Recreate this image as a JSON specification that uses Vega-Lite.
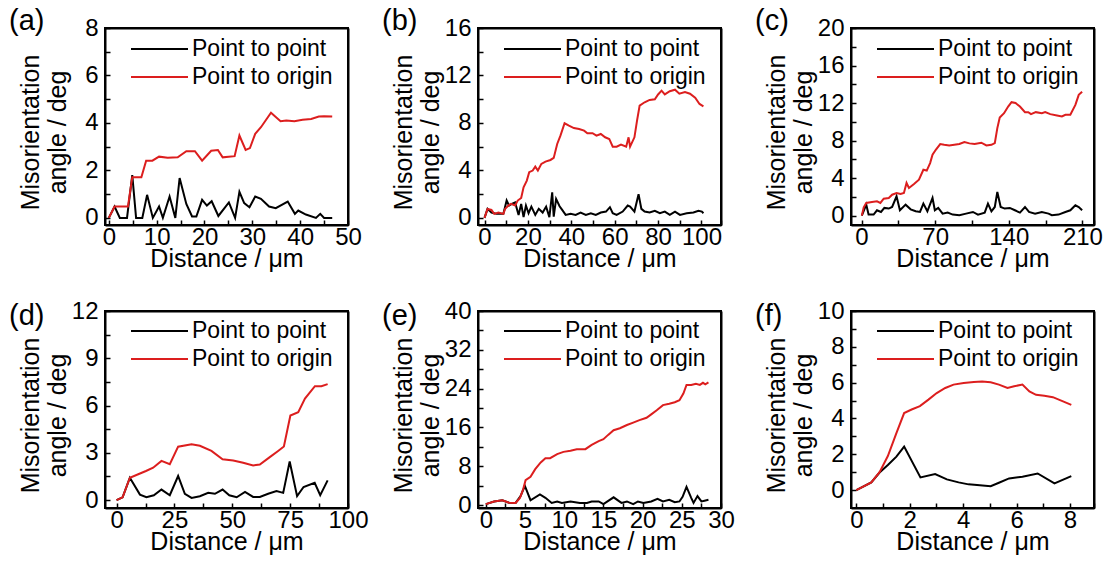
{
  "$schema": "https://vega.github.io/schema/vega-lite/v6.json",
  "background": "white",
  "padding": {"left": 8, "top": 6, "right": 0, "bottom": 0},
  "datasets": {
    "a": [
      {"x":0,"y":0,"s":"Point to point"},{"x":1.2,"y":0.48,"s":"Point to point"},{"x":2.3,"y":0,"s":"Point to point"},{"x":3.8,"y":0,"s":"Point to point"},{"x":4.9,"y":1.8,"s":"Point to point"},{"x":5.7,"y":0,"s":"Point to point"},{"x":7.0,"y":0,"s":"Point to point"},{"x":8.0,"y":0.97,"s":"Point to point"},{"x":9.2,"y":0,"s":"Point to point"},{"x":10.5,"y":0.48,"s":"Point to point"},{"x":11.3,"y":0,"s":"Point to point"},{"x":12.7,"y":0.9,"s":"Point to point"},{"x":13.9,"y":0,"s":"Point to point"},{"x":14.8,"y":1.68,"s":"Point to point"},{"x":16.2,"y":0.59,"s":"Point to point"},{"x":17.4,"y":0.06,"s":"Point to point"},{"x":18.3,"y":0.06,"s":"Point to point"},{"x":19.5,"y":0.76,"s":"Point to point"},{"x":20.5,"y":0.52,"s":"Point to point"},{"x":21.5,"y":0.7,"s":"Point to point"},{"x":22.9,"y":0.08,"s":"Point to point"},{"x":25.1,"y":0.65,"s":"Point to point"},{"x":26.4,"y":0,"s":"Point to point"},{"x":27.3,"y":1.1,"s":"Point to point"},{"x":28.3,"y":0.62,"s":"Point to point"},{"x":29.4,"y":0.45,"s":"Point to point"},{"x":30.6,"y":0.9,"s":"Point to point"},{"x":31.8,"y":0.8,"s":"Point to point"},{"x":33.5,"y":0.48,"s":"Point to point"},{"x":34.9,"y":0.41,"s":"Point to point"},{"x":37.4,"y":0.69,"s":"Point to point"},{"x":38.9,"y":0.17,"s":"Point to point"},{"x":39.6,"y":0.31,"s":"Point to point"},{"x":41.2,"y":0.14,"s":"Point to point"},{"x":43.3,"y":0,"s":"Point to point"},{"x":44.2,"y":0.17,"s":"Point to point"},{"x":45.0,"y":0,"s":"Point to point"},{"x":46.7,"y":0,"s":"Point to point"},
      {"x":0,"y":0,"s":"Point to origin"},{"x":1.2,"y":0.48,"s":"Point to origin"},{"x":4.0,"y":0.48,"s":"Point to origin"},{"x":4.9,"y":1.71,"s":"Point to origin"},{"x":6.8,"y":1.71,"s":"Point to origin"},{"x":7.8,"y":2.41,"s":"Point to origin"},{"x":9.1,"y":2.41,"s":"Point to origin"},{"x":10.5,"y":2.58,"s":"Point to origin"},{"x":12.3,"y":2.53,"s":"Point to origin"},{"x":14.4,"y":2.55,"s":"Point to origin"},{"x":16.2,"y":2.81,"s":"Point to origin"},{"x":18.0,"y":2.81,"s":"Point to origin"},{"x":19.5,"y":2.41,"s":"Point to origin"},{"x":21.4,"y":2.83,"s":"Point to origin"},{"x":22.8,"y":2.86,"s":"Point to origin"},{"x":23.8,"y":2.55,"s":"Point to origin"},{"x":26.3,"y":2.6,"s":"Point to origin"},{"x":27.3,"y":3.47,"s":"Point to origin"},{"x":28.6,"y":2.86,"s":"Point to origin"},{"x":29.5,"y":2.94,"s":"Point to origin"},{"x":30.6,"y":3.54,"s":"Point to origin"},{"x":31.8,"y":3.82,"s":"Point to origin"},{"x":33.9,"y":4.43,"s":"Point to origin"},{"x":35.9,"y":4.07,"s":"Point to origin"},{"x":37.1,"y":4.1,"s":"Point to origin"},{"x":38.8,"y":4.07,"s":"Point to origin"},{"x":40.5,"y":4.13,"s":"Point to origin"},{"x":42.3,"y":4.17,"s":"Point to origin"},{"x":43.9,"y":4.27,"s":"Point to origin"},{"x":45.0,"y":4.28,"s":"Point to origin"},{"x":46.7,"y":4.27,"s":"Point to origin"}
    ],
    "b": [
      {"x":0,"y":0,"s":"Point to point"},{"x":1.4,"y":0.76,"s":"Point to point"},{"x":3.2,"y":0.45,"s":"Point to point"},{"x":5.6,"y":0.34,"s":"Point to point"},{"x":8.7,"y":0.34,"s":"Point to point"},{"x":10.2,"y":1.46,"s":"Point to point"},{"x":11.3,"y":1.04,"s":"Point to point"},{"x":12.6,"y":1.18,"s":"Point to point"},{"x":14.1,"y":1.3,"s":"Point to point"},{"x":15.7,"y":0.25,"s":"Point to point"},{"x":16.9,"y":1.18,"s":"Point to point"},{"x":18.0,"y":0.06,"s":"Point to point"},{"x":19.1,"y":1.04,"s":"Point to point"},{"x":20.3,"y":0.39,"s":"Point to point"},{"x":21.6,"y":0.95,"s":"Point to point"},{"x":23.4,"y":0.25,"s":"Point to point"},{"x":25.0,"y":0.76,"s":"Point to point"},{"x":26.8,"y":0.45,"s":"Point to point"},{"x":28.4,"y":0.95,"s":"Point to point"},{"x":29.9,"y":0.06,"s":"Point to point"},{"x":31.2,"y":2.16,"s":"Point to point"},{"x":31.9,"y":0.1,"s":"Point to point"},{"x":33.0,"y":1.6,"s":"Point to point"},{"x":34.6,"y":0.98,"s":"Point to point"},{"x":35.8,"y":0.67,"s":"Point to point"},{"x":37.4,"y":0.25,"s":"Point to point"},{"x":39.7,"y":0.34,"s":"Point to point"},{"x":42.0,"y":0.25,"s":"Point to point"},{"x":44.3,"y":0.45,"s":"Point to point"},{"x":46.7,"y":0.25,"s":"Point to point"},{"x":49.0,"y":0.39,"s":"Point to point"},{"x":51.3,"y":0.25,"s":"Point to point"},{"x":53.6,"y":0.45,"s":"Point to point"},{"x":56.0,"y":0.53,"s":"Point to point"},{"x":57.8,"y":0.9,"s":"Point to point"},{"x":59.1,"y":0.39,"s":"Point to point"},{"x":60.9,"y":0.25,"s":"Point to point"},{"x":63.7,"y":0.53,"s":"Point to point"},{"x":66.0,"y":1.04,"s":"Point to point"},{"x":67.1,"y":0.95,"s":"Point to point"},{"x":69.1,"y":0.53,"s":"Point to point"},{"x":71.0,"y":2.0,"s":"Point to point"},{"x":72.3,"y":0.76,"s":"Point to point"},{"x":73.8,"y":0.53,"s":"Point to point"},{"x":76.1,"y":0.45,"s":"Point to point"},{"x":78.5,"y":0.6,"s":"Point to point"},{"x":80.8,"y":0.39,"s":"Point to point"},{"x":83.1,"y":0.53,"s":"Point to point"},{"x":85.4,"y":0.25,"s":"Point to point"},{"x":87.8,"y":0.53,"s":"Point to point"},{"x":90.1,"y":0.25,"s":"Point to point"},{"x":93.2,"y":0.39,"s":"Point to point"},{"x":96.3,"y":0.45,"s":"Point to point"},{"x":98.6,"y":0.6,"s":"Point to point"},{"x":100.2,"y":0.53,"s":"Point to point"},{"x":100.9,"y":0.39,"s":"Point to point"},
      {"x":0,"y":0,"s":"Point to origin"},{"x":1.4,"y":0.76,"s":"Point to origin"},{"x":3.2,"y":0.67,"s":"Point to origin"},{"x":4.5,"y":0.34,"s":"Point to origin"},{"x":6.4,"y":0.45,"s":"Point to origin"},{"x":8.7,"y":0.34,"s":"Point to origin"},{"x":9.5,"y":0.76,"s":"Point to origin"},{"x":11.0,"y":1.04,"s":"Point to origin"},{"x":12.2,"y":1.18,"s":"Point to origin"},{"x":14.1,"y":1.04,"s":"Point to origin"},{"x":15.3,"y":1.46,"s":"Point to origin"},{"x":16.9,"y":1.68,"s":"Point to origin"},{"x":18.0,"y":2.58,"s":"Point to origin"},{"x":19.5,"y":3.14,"s":"Point to origin"},{"x":20.6,"y":3.85,"s":"Point to origin"},{"x":22.2,"y":3.99,"s":"Point to origin"},{"x":23.4,"y":4.32,"s":"Point to origin"},{"x":24.6,"y":3.99,"s":"Point to origin"},{"x":26.2,"y":4.55,"s":"Point to origin"},{"x":28.1,"y":4.74,"s":"Point to origin"},{"x":30.4,"y":4.88,"s":"Point to origin"},{"x":31.9,"y":5.05,"s":"Point to origin"},{"x":33.5,"y":6.23,"s":"Point to origin"},{"x":35.0,"y":6.93,"s":"Point to origin"},{"x":36.9,"y":7.97,"s":"Point to origin"},{"x":38.9,"y":7.77,"s":"Point to origin"},{"x":41.2,"y":7.57,"s":"Point to origin"},{"x":43.6,"y":7.49,"s":"Point to origin"},{"x":45.9,"y":7.35,"s":"Point to origin"},{"x":47.4,"y":7.13,"s":"Point to origin"},{"x":49.8,"y":7.13,"s":"Point to origin"},{"x":51.6,"y":6.93,"s":"Point to origin"},{"x":53.6,"y":7.07,"s":"Point to origin"},{"x":55.6,"y":6.79,"s":"Point to origin"},{"x":57.5,"y":6.65,"s":"Point to origin"},{"x":59.1,"y":6.0,"s":"Point to origin"},{"x":60.9,"y":6.0,"s":"Point to origin"},{"x":62.9,"y":6.18,"s":"Point to origin"},{"x":65.3,"y":6.0,"s":"Point to origin"},{"x":66.4,"y":6.79,"s":"Point to origin"},{"x":67.1,"y":6.0,"s":"Point to origin"},{"x":69.1,"y":6.79,"s":"Point to origin"},{"x":70.3,"y":8.2,"s":"Point to origin"},{"x":71.5,"y":9.46,"s":"Point to origin"},{"x":73.8,"y":9.74,"s":"Point to origin"},{"x":76.1,"y":9.94,"s":"Point to origin"},{"x":78.5,"y":10.0,"s":"Point to origin"},{"x":80.0,"y":10.4,"s":"Point to origin"},{"x":81.6,"y":10.72,"s":"Point to origin"},{"x":83.1,"y":10.4,"s":"Point to origin"},{"x":85.4,"y":10.67,"s":"Point to origin"},{"x":87.8,"y":10.8,"s":"Point to origin"},{"x":89.8,"y":10.46,"s":"Point to origin"},{"x":92.4,"y":10.6,"s":"Point to origin"},{"x":94.7,"y":10.46,"s":"Point to origin"},{"x":97.1,"y":10.12,"s":"Point to origin"},{"x":99.1,"y":9.6,"s":"Point to origin"},{"x":100.9,"y":9.4,"s":"Point to origin"}
    ],
    "c": [
      {"x":0.3,"y":0,"s":"Point to point"},{"x":4.5,"y":1.17,"s":"Point to point"},{"x":6.7,"y":0.11,"s":"Point to point"},{"x":11.5,"y":0.11,"s":"Point to point"},{"x":14.7,"y":0.57,"s":"Point to point"},{"x":18.5,"y":0.39,"s":"Point to point"},{"x":21.7,"y":0.82,"s":"Point to point"},{"x":25.9,"y":0.75,"s":"Point to point"},{"x":29.1,"y":0.92,"s":"Point to point"},{"x":33.3,"y":2.06,"s":"Point to point"},{"x":36.5,"y":0.57,"s":"Point to point"},{"x":41.9,"y":1.17,"s":"Point to point"},{"x":46.7,"y":0.67,"s":"Point to point"},{"x":51.5,"y":0.46,"s":"Point to point"},{"x":55.6,"y":0.39,"s":"Point to point"},{"x":58.8,"y":1.28,"s":"Point to point"},{"x":62.6,"y":0.46,"s":"Point to point"},{"x":67.5,"y":1.88,"s":"Point to point"},{"x":69.7,"y":0.57,"s":"Point to point"},{"x":72.9,"y":0.82,"s":"Point to point"},{"x":77.1,"y":0.21,"s":"Point to point"},{"x":81.9,"y":0.32,"s":"Point to point"},{"x":86.7,"y":0.11,"s":"Point to point"},{"x":93.0,"y":0.04,"s":"Point to point"},{"x":99.4,"y":0.21,"s":"Point to point"},{"x":105.9,"y":0.39,"s":"Point to point"},{"x":110.7,"y":0.11,"s":"Point to point"},{"x":117.1,"y":0.32,"s":"Point to point"},{"x":120.2,"y":1.28,"s":"Point to point"},{"x":123.5,"y":0.46,"s":"Point to point"},{"x":126.7,"y":0.92,"s":"Point to point"},{"x":129.1,"y":2.52,"s":"Point to point"},{"x":132.3,"y":0.92,"s":"Point to point"},{"x":136.1,"y":0.75,"s":"Point to point"},{"x":141.0,"y":0.82,"s":"Point to point"},{"x":145.8,"y":0.57,"s":"Point to point"},{"x":150.6,"y":0.32,"s":"Point to point"},{"x":155.4,"y":0.92,"s":"Point to point"},{"x":159.2,"y":0.39,"s":"Point to point"},{"x":165.0,"y":0.21,"s":"Point to point"},{"x":171.4,"y":0.39,"s":"Point to point"},{"x":177.8,"y":0.21,"s":"Point to point"},{"x":180.9,"y":0.04,"s":"Point to point"},{"x":187.3,"y":0.11,"s":"Point to point"},{"x":193.8,"y":0.39,"s":"Point to point"},{"x":198.5,"y":0.57,"s":"Point to point"},{"x":203.3,"y":1.1,"s":"Point to point"},{"x":206.5,"y":0.92,"s":"Point to point"},{"x":209.7,"y":0.57,"s":"Point to point"},
      {"x":0.3,"y":0,"s":"Point to origin"},{"x":2.1,"y":0.89,"s":"Point to origin"},{"x":4.5,"y":1.35,"s":"Point to origin"},{"x":9.9,"y":1.45,"s":"Point to origin"},{"x":14.7,"y":1.52,"s":"Point to origin"},{"x":17.9,"y":1.35,"s":"Point to origin"},{"x":21.1,"y":1.81,"s":"Point to origin"},{"x":25.9,"y":1.88,"s":"Point to origin"},{"x":29.1,"y":2.23,"s":"Point to origin"},{"x":33.3,"y":2.41,"s":"Point to origin"},{"x":37.1,"y":2.3,"s":"Point to origin"},{"x":40.3,"y":2.41,"s":"Point to origin"},{"x":42.8,"y":3.48,"s":"Point to origin"},{"x":45.1,"y":2.95,"s":"Point to origin"},{"x":49.9,"y":3.37,"s":"Point to origin"},{"x":54.6,"y":3.83,"s":"Point to origin"},{"x":58.8,"y":4.89,"s":"Point to origin"},{"x":62.0,"y":4.8,"s":"Point to origin"},{"x":65.2,"y":5.6,"s":"Point to origin"},{"x":67.5,"y":6.49,"s":"Point to origin"},{"x":70.6,"y":7.02,"s":"Point to origin"},{"x":74.8,"y":7.63,"s":"Point to origin"},{"x":78.6,"y":7.55,"s":"Point to origin"},{"x":83.4,"y":7.48,"s":"Point to origin"},{"x":88.2,"y":7.55,"s":"Point to origin"},{"x":93.0,"y":7.63,"s":"Point to origin"},{"x":97.8,"y":7.84,"s":"Point to origin"},{"x":102.6,"y":7.7,"s":"Point to origin"},{"x":107.5,"y":7.63,"s":"Point to origin"},{"x":113.9,"y":7.77,"s":"Point to origin"},{"x":118.7,"y":7.48,"s":"Point to origin"},{"x":123.5,"y":7.55,"s":"Point to origin"},{"x":126.7,"y":7.73,"s":"Point to origin"},{"x":129.1,"y":9.33,"s":"Point to origin"},{"x":131.4,"y":10.46,"s":"Point to origin"},{"x":135.5,"y":10.92,"s":"Point to origin"},{"x":139.4,"y":11.63,"s":"Point to origin"},{"x":142.6,"y":12.09,"s":"Point to origin"},{"x":146.4,"y":12.0,"s":"Point to origin"},{"x":150.6,"y":11.63,"s":"Point to origin"},{"x":155.4,"y":11.03,"s":"Point to origin"},{"x":158.5,"y":11.03,"s":"Point to origin"},{"x":161.1,"y":10.82,"s":"Point to origin"},{"x":165.7,"y":11.03,"s":"Point to origin"},{"x":171.4,"y":10.92,"s":"Point to origin"},{"x":174.6,"y":11.03,"s":"Point to origin"},{"x":179.4,"y":10.82,"s":"Point to origin"},{"x":185.8,"y":10.67,"s":"Point to origin"},{"x":190.5,"y":10.57,"s":"Point to origin"},{"x":193.8,"y":10.75,"s":"Point to origin"},{"x":198.5,"y":10.75,"s":"Point to origin"},{"x":203.3,"y":11.8,"s":"Point to origin"},{"x":206.5,"y":12.87,"s":"Point to origin"},{"x":209.7,"y":13.2,"s":"Point to origin"}
    ],
    "d": [
      {"x":0,"y":0,"s":"Point to point"},{"x":2.6,"y":0.18,"s":"Point to point"},{"x":5.75,"y":1.42,"s":"Point to point"},{"x":10.1,"y":0.35,"s":"Point to point"},{"x":12.9,"y":0.18,"s":"Point to point"},{"x":16.1,"y":0.31,"s":"Point to point"},{"x":19.4,"y":0.67,"s":"Point to point"},{"x":23.0,"y":0.31,"s":"Point to point"},{"x":26.6,"y":1.53,"s":"Point to point"},{"x":29.5,"y":0.4,"s":"Point to point"},{"x":32.4,"y":0.14,"s":"Point to point"},{"x":36.0,"y":0.25,"s":"Point to point"},{"x":39.6,"y":0.46,"s":"Point to point"},{"x":42.5,"y":0.4,"s":"Point to point"},{"x":45.8,"y":0.67,"s":"Point to point"},{"x":48.7,"y":0.31,"s":"Point to point"},{"x":51.9,"y":0.18,"s":"Point to point"},{"x":55.5,"y":0.52,"s":"Point to point"},{"x":59.0,"y":0.2,"s":"Point to point"},{"x":61.9,"y":0.2,"s":"Point to point"},{"x":65.5,"y":0.4,"s":"Point to point"},{"x":69.1,"y":0.57,"s":"Point to point"},{"x":72.0,"y":0.46,"s":"Point to point"},{"x":74.8,"y":2.45,"s":"Point to point"},{"x":78.0,"y":0.25,"s":"Point to point"},{"x":80.8,"y":0.83,"s":"Point to point"},{"x":85.6,"y":1.1,"s":"Point to point"},{"x":88.0,"y":0.31,"s":"Point to point"},{"x":91.2,"y":1.25,"s":"Point to point"},
      {"x":0,"y":0,"s":"Point to origin"},{"x":2.6,"y":0.18,"s":"Point to origin"},{"x":5.75,"y":1.42,"s":"Point to origin"},{"x":9.35,"y":1.64,"s":"Point to origin"},{"x":12.7,"y":1.85,"s":"Point to origin"},{"x":15.8,"y":2.06,"s":"Point to origin"},{"x":19.4,"y":2.49,"s":"Point to origin"},{"x":23.0,"y":2.28,"s":"Point to origin"},{"x":26.6,"y":3.39,"s":"Point to origin"},{"x":32.4,"y":3.55,"s":"Point to origin"},{"x":36.0,"y":3.45,"s":"Point to origin"},{"x":41.0,"y":3.12,"s":"Point to origin"},{"x":45.8,"y":2.59,"s":"Point to origin"},{"x":50.4,"y":2.52,"s":"Point to origin"},{"x":54.7,"y":2.37,"s":"Point to origin"},{"x":59.0,"y":2.2,"s":"Point to origin"},{"x":61.9,"y":2.26,"s":"Point to origin"},{"x":66.2,"y":2.73,"s":"Point to origin"},{"x":69.8,"y":3.12,"s":"Point to origin"},{"x":72.3,"y":3.4,"s":"Point to origin"},{"x":75.1,"y":5.37,"s":"Point to origin"},{"x":78.5,"y":5.58,"s":"Point to origin"},{"x":81.4,"y":6.44,"s":"Point to origin"},{"x":85.7,"y":7.23,"s":"Point to origin"},{"x":88.5,"y":7.23,"s":"Point to origin"},{"x":91.2,"y":7.36,"s":"Point to origin"}
    ],
    "e": [
      {"x":0,"y":0.2,"s":"Point to point"},{"x":1.06,"y":0.75,"s":"Point to point"},{"x":2.1,"y":1.0,"s":"Point to point"},{"x":2.96,"y":0.5,"s":"Point to point"},{"x":3.8,"y":0.45,"s":"Point to point"},{"x":4.43,"y":1.85,"s":"Point to point"},{"x":4.98,"y":3.97,"s":"Point to point"},{"x":5.7,"y":1.0,"s":"Point to point"},{"x":6.9,"y":2.2,"s":"Point to point"},{"x":7.6,"y":1.5,"s":"Point to point"},{"x":8.4,"y":0.45,"s":"Point to point"},{"x":9.1,"y":0.75,"s":"Point to point"},{"x":9.7,"y":0.45,"s":"Point to point"},{"x":10.8,"y":0.75,"s":"Point to point"},{"x":12.0,"y":0.45,"s":"Point to point"},{"x":12.9,"y":0.45,"s":"Point to point"},{"x":13.5,"y":0.75,"s":"Point to point"},{"x":14.4,"y":0.75,"s":"Point to point"},{"x":15.0,"y":0.2,"s":"Point to point"},{"x":16.3,"y":1.6,"s":"Point to point"},{"x":17.3,"y":0.45,"s":"Point to point"},{"x":18.0,"y":0.75,"s":"Point to point"},{"x":18.8,"y":0.2,"s":"Point to point"},{"x":19.4,"y":0.75,"s":"Point to point"},{"x":20.1,"y":0.45,"s":"Point to point"},{"x":21.1,"y":0.75,"s":"Point to point"},{"x":21.9,"y":1.3,"s":"Point to point"},{"x":22.6,"y":0.75,"s":"Point to point"},{"x":23.4,"y":1.1,"s":"Point to point"},{"x":24.1,"y":0.6,"s":"Point to point"},{"x":24.7,"y":0.75,"s":"Point to point"},{"x":25.1,"y":1.7,"s":"Point to point"},{"x":25.6,"y":3.77,"s":"Point to point"},{"x":26.2,"y":1.5,"s":"Point to point"},{"x":26.5,"y":0.45,"s":"Point to point"},{"x":27.0,"y":1.85,"s":"Point to point"},{"x":27.5,"y":0.75,"s":"Point to point"},{"x":27.9,"y":0.9,"s":"Point to point"},{"x":28.4,"y":1.1,"s":"Point to point"},
      {"x":0,"y":0.2,"s":"Point to origin"},{"x":1.06,"y":0.75,"s":"Point to origin"},{"x":2.1,"y":1.0,"s":"Point to origin"},{"x":2.96,"y":0.5,"s":"Point to origin"},{"x":3.8,"y":0.45,"s":"Point to origin"},{"x":4.35,"y":1.48,"s":"Point to origin"},{"x":4.77,"y":3.29,"s":"Point to origin"},{"x":5.07,"y":5.14,"s":"Point to origin"},{"x":5.7,"y":5.83,"s":"Point to origin"},{"x":6.3,"y":7.4,"s":"Point to origin"},{"x":7.0,"y":8.78,"s":"Point to origin"},{"x":7.6,"y":9.67,"s":"Point to origin"},{"x":8.2,"y":9.67,"s":"Point to origin"},{"x":9.1,"y":10.5,"s":"Point to origin"},{"x":9.9,"y":10.97,"s":"Point to origin"},{"x":10.8,"y":11.18,"s":"Point to origin"},{"x":11.6,"y":11.52,"s":"Point to origin"},{"x":12.7,"y":11.52,"s":"Point to origin"},{"x":13.5,"y":12.41,"s":"Point to origin"},{"x":14.4,"y":13.2,"s":"Point to origin"},{"x":15.0,"y":13.58,"s":"Point to origin"},{"x":15.6,"y":14.47,"s":"Point to origin"},{"x":16.3,"y":15.43,"s":"Point to origin"},{"x":17.1,"y":15.84,"s":"Point to origin"},{"x":18.0,"y":16.5,"s":"Point to origin"},{"x":18.8,"y":17.0,"s":"Point to origin"},{"x":19.6,"y":17.5,"s":"Point to origin"},{"x":20.5,"y":18.0,"s":"Point to origin"},{"x":21.1,"y":18.7,"s":"Point to origin"},{"x":21.8,"y":19.55,"s":"Point to origin"},{"x":22.6,"y":20.6,"s":"Point to origin"},{"x":23.4,"y":20.9,"s":"Point to origin"},{"x":24.1,"y":21.2,"s":"Point to origin"},{"x":24.7,"y":21.6,"s":"Point to origin"},{"x":25.2,"y":22.98,"s":"Point to origin"},{"x":25.6,"y":24.76,"s":"Point to origin"},{"x":26.2,"y":24.76,"s":"Point to origin"},{"x":26.8,"y":25.0,"s":"Point to origin"},{"x":27.3,"y":24.76,"s":"Point to origin"},{"x":27.7,"y":25.2,"s":"Point to origin"},{"x":28.0,"y":24.9,"s":"Point to origin"},{"x":28.4,"y":25.3,"s":"Point to origin"}
    ],
    "f": [
      {"x":0,"y":0,"s":"Point to point"},{"x":0.56,"y":0.43,"s":"Point to point"},{"x":0.87,"y":0.98,"s":"Point to point"},{"x":1.18,"y":1.4,"s":"Point to point"},{"x":1.5,"y":1.87,"s":"Point to point"},{"x":1.79,"y":2.43,"s":"Point to point"},{"x":2.4,"y":0.71,"s":"Point to point"},{"x":2.95,"y":0.9,"s":"Point to point"},{"x":3.39,"y":0.6,"s":"Point to point"},{"x":3.83,"y":0.43,"s":"Point to point"},{"x":4.2,"y":0.32,"s":"Point to point"},{"x":4.52,"y":0.28,"s":"Point to point"},{"x":5.03,"y":0.22,"s":"Point to point"},{"x":5.34,"y":0.41,"s":"Point to point"},{"x":5.72,"y":0.65,"s":"Point to point"},{"x":6.22,"y":0.75,"s":"Point to point"},{"x":6.79,"y":0.93,"s":"Point to point"},{"x":7.42,"y":0.37,"s":"Point to point"},{"x":8.05,"y":0.78,"s":"Point to point"},
      {"x":0,"y":0,"s":"Point to origin"},{"x":0.56,"y":0.43,"s":"Point to origin"},{"x":0.87,"y":1.0,"s":"Point to origin"},{"x":1.18,"y":1.9,"s":"Point to origin"},{"x":1.5,"y":3.18,"s":"Point to origin"},{"x":1.79,"y":4.3,"s":"Point to origin"},{"x":2.07,"y":4.5,"s":"Point to origin"},{"x":2.38,"y":4.69,"s":"Point to origin"},{"x":2.7,"y":5.05,"s":"Point to origin"},{"x":3.01,"y":5.42,"s":"Point to origin"},{"x":3.33,"y":5.7,"s":"Point to origin"},{"x":3.64,"y":5.89,"s":"Point to origin"},{"x":4.02,"y":5.98,"s":"Point to origin"},{"x":4.4,"y":6.04,"s":"Point to origin"},{"x":4.71,"y":6.06,"s":"Point to origin"},{"x":5.03,"y":6.02,"s":"Point to origin"},{"x":5.34,"y":5.89,"s":"Point to origin"},{"x":5.66,"y":5.7,"s":"Point to origin"},{"x":5.91,"y":5.8,"s":"Point to origin"},{"x":6.22,"y":5.89,"s":"Point to origin"},{"x":6.48,"y":5.51,"s":"Point to origin"},{"x":6.73,"y":5.32,"s":"Point to origin"},{"x":7.04,"y":5.27,"s":"Point to origin"},{"x":7.36,"y":5.19,"s":"Point to origin"},{"x":7.74,"y":4.95,"s":"Point to origin"},{"x":8.05,"y":4.76,"s":"Point to origin"}
    ]
  },
  "columns": 3,
  "spacing": {"row": 86, "column": 130},
  "bounds": "flush",
  "resolve": {"scale": {"x": "independent", "y": "independent", "color": "independent"}, "legend": {"color": "independent"}},
  "concat": [
    {
      "title": {"text": "(a)", "dy": 24},
      "width": 243, "height": 197,
      "data": {"name": "a"},
      "mark": {"type": "line", "strokeWidth": 2},
      "encoding": {
        "x": {"field": "x", "type": "quantitative", "scale": {"domain": [-0.8, 50], "nice": false, "zero": false}, "axis": {"values": [0,5,10,15,20,25,30,35,40,45,50], "labelExpr": "datum.value % 10 == 0 ? format(datum.value, 'd') : ''", "title": "Distance / μm", "gridOpacity": {"condition": {"test": "datum.value == 50", "value": 1}, "value": 0}}},
        "y": {"field": "y", "type": "quantitative", "scale": {"domain": [-0.3, 8], "nice": false, "zero": false}, "axis": {"values": [0,1,2,3,4,5,6,7,8], "labelExpr": "datum.value % 2 == 0 ? format(datum.value, 'd') : ''", "title": ["Misorientation", "angle / deg"], "gridOpacity": {"condition": {"test": "datum.value == 8", "value": 1}, "value": 0}}},
        "color": {"field": "s", "type": "nominal", "scale": {"domain": ["Point to point", "Point to origin"], "range": ["#000000", "#dc1e1e"]}, "legend": {"orient": "none", "legendX": 25, "legendY": 9, "title": null}}
      }
    },
    {
      "title": {"text": "(b)", "dy": 24},
      "width": 243, "height": 197,
      "data": {"name": "b"},
      "mark": {"type": "line", "strokeWidth": 2},
      "encoding": {
        "x": {"field": "x", "type": "quantitative", "scale": {"domain": [-3, 109], "nice": false, "zero": false}, "axis": {"values": [0,10,20,30,40,50,60,70,80,90,100,109], "labelExpr": "datum.value % 20 == 0 ? format(datum.value, 'd') : ''", "title": "Distance / μm", "gridOpacity": {"condition": {"test": "datum.value == 109", "value": 1}, "value": 0}}},
        "y": {"field": "y", "type": "quantitative", "scale": {"domain": [-0.6, 16], "nice": false, "zero": false}, "axis": {"values": [0,2,4,6,8,10,12,14,16], "labelExpr": "datum.value % 4 == 0 ? format(datum.value, 'd') : ''", "title": ["Misorientation", "angle / deg"], "gridOpacity": {"condition": {"test": "datum.value == 16", "value": 1}, "value": 0}}},
        "color": {"field": "s", "type": "nominal", "scale": {"domain": ["Point to point", "Point to origin"], "range": ["#000000", "#dc1e1e"]}, "legend": {"orient": "none", "legendX": 25, "legendY": 9, "title": null}}
      }
    },
    {
      "title": {"text": "(c)", "dy": 24},
      "width": 243, "height": 197,
      "data": {"name": "c"},
      "mark": {"type": "line", "strokeWidth": 2},
      "encoding": {
        "x": {"field": "x", "type": "quantitative", "scale": {"domain": [-10, 221], "nice": false, "zero": false}, "axis": {"values": [0,35,70,105,140,175,210,221], "labelExpr": "datum.value % 70 == 0 ? format(datum.value, 'd') : ''", "title": "Distance / μm", "gridOpacity": {"condition": {"test": "datum.value == 221", "value": 1}, "value": 0}}},
        "y": {"field": "y", "type": "quantitative", "scale": {"domain": [-1, 20], "nice": false, "zero": false}, "axis": {"values": [0,2,4,6,8,10,12,14,16,18,20], "labelExpr": "datum.value % 4 == 0 ? format(datum.value, 'd') : ''", "title": ["Misorientation", "angle / deg"], "gridOpacity": {"condition": {"test": "datum.value == 20", "value": 1}, "value": 0}}},
        "color": {"field": "s", "type": "nominal", "scale": {"domain": ["Point to point", "Point to origin"], "range": ["#000000", "#dc1e1e"]}, "legend": {"orient": "none", "legendX": 25, "legendY": 9, "title": null}}
      }
    },
    {
      "title": {"text": "(d)", "dy": 36},
      "width": 243, "height": 197,
      "data": {"name": "d"},
      "mark": {"type": "line", "strokeWidth": 2},
      "encoding": {
        "x": {"field": "x", "type": "quantitative", "scale": {"domain": [-5, 100], "nice": false, "zero": false}, "axis": {"values": [0,12.5,25,37.5,50,62.5,75,87.5,100], "labelExpr": "datum.value % 25 == 0 ? format(datum.value, 'd') : ''", "title": "Distance / μm", "gridOpacity": {"condition": {"test": "datum.value == 100", "value": 1}, "value": 0}}},
        "y": {"field": "y", "type": "quantitative", "scale": {"domain": [-0.5, 12], "nice": false, "zero": false}, "axis": {"values": [0,1.5,3,4.5,6,7.5,9,10.5,12], "labelExpr": "datum.value % 3 == 0 ? format(datum.value, 'd') : ''", "title": ["Misorientation", "angle / deg"], "gridOpacity": {"condition": {"test": "datum.value == 12", "value": 1}, "value": 0}}},
        "color": {"field": "s", "type": "nominal", "scale": {"domain": ["Point to point", "Point to origin"], "range": ["#000000", "#dc1e1e"]}, "legend": {"orient": "none", "legendX": 25, "legendY": 8, "title": null}}
      }
    },
    {
      "title": {"text": "(e)", "dy": 36},
      "width": 243, "height": 197,
      "data": {"name": "e"},
      "mark": {"type": "line", "strokeWidth": 2},
      "encoding": {
        "x": {"field": "x", "type": "quantitative", "scale": {"domain": [-1, 30], "nice": false, "zero": false}, "axis": {"values": [0,2.5,5,7.5,10,12.5,15,17.5,20,22.5,25,27.5,30], "labelExpr": "datum.value % 5 == 0 ? format(datum.value, 'd') : ''", "title": "Distance / μm", "gridOpacity": {"condition": {"test": "datum.value == 30", "value": 1}, "value": 0}}},
        "y": {"field": "y", "type": "quantitative", "scale": {"domain": [-0.6, 40], "nice": false, "zero": false}, "axis": {"values": [0,4,8,12,16,20,24,28,32,36,40], "labelExpr": "datum.value % 8 == 0 ? format(datum.value, 'd') : ''", "title": ["Misorientation", "angle / deg"], "gridOpacity": {"condition": {"test": "datum.value == 40", "value": 1}, "value": 0}}},
        "color": {"field": "s", "type": "nominal", "scale": {"domain": ["Point to point", "Point to origin"], "range": ["#000000", "#dc1e1e"]}, "legend": {"orient": "none", "legendX": 25, "legendY": 8, "title": null}}
      }
    },
    {
      "title": {"text": "(f)", "dy": 36},
      "width": 243, "height": 197,
      "data": {"name": "f"},
      "mark": {"type": "line", "strokeWidth": 2},
      "encoding": {
        "x": {"field": "x", "type": "quantitative", "scale": {"domain": [-0.2, 8.9], "nice": false, "zero": false}, "axis": {"values": [0,1,2,3,4,5,6,7,8,8.9], "labelExpr": "datum.value % 2 == 0 ? format(datum.value, 'd') : ''", "title": "Distance / μm", "gridOpacity": {"condition": {"test": "datum.value == 8.9", "value": 1}, "value": 0}}},
        "y": {"field": "y", "type": "quantitative", "scale": {"domain": [-1, 10], "nice": false, "zero": false}, "axis": {"values": [0,1,2,3,4,5,6,7,8,9,10], "labelExpr": "datum.value % 2 == 0 ? format(datum.value, 'd') : ''", "title": ["Misorientation", "angle / deg"], "gridOpacity": {"condition": {"test": "datum.value == 10", "value": 1}, "value": 0}}},
        "color": {"field": "s", "type": "nominal", "scale": {"domain": ["Point to point", "Point to origin"], "range": ["#000000", "#dc1e1e"]}, "legend": {"orient": "none", "legendX": 25, "legendY": 8, "title": null}}
      }
    }
  ],
  "config": {
    "font": "Liberation Sans",
    "view": {"stroke": "#000000", "strokeWidth": 2},
    "axis": {
      "grid": true, "gridColor": "#000000", "gridWidth": 2,
      "domain": true, "domainColor": "#000000", "domainWidth": 2, "ticks": true, "tickSize": -5, "tickColor": "#000000", "tickWidth": 1.5,
      "labelFont": "Liberation Sans", "labelFontSize": 24, "labelColor": "#000000", "labelFlush": false, "labelOverlap": false, "labelBound": false,
      "titleFont": "Liberation Sans", "titleFontSize": 25, "titleFontWeight": "normal", "titleColor": "#000000"
    },
    "axisX": {"labelPadding": 5, "titlePadding": -3},
    "axisY": {"labelPadding": 12, "titleAngle": 270, "titleBaseline": "bottom", "titleAlign": "center", "titleX": -62, "titleY": 104, "titleLineHeight": 27},
    "legend": {"symbolType": "stroke", "symbolSize": 3249, "symbolStrokeWidth": 2, "labelFont": "Liberation Sans", "labelFontSize": 23, "labelColor": "#000000", "labelOffset": 3, "clipHeight": 24, "rowPadding": 4, "padding": 0},
    "title": {"anchor": "start", "frame": "group", "font": "Liberation Sans", "fontSize": 29, "fontWeight": "normal", "color": "#000000", "dx": -96, "offset": 0, "baseline": "top"}
  }
}
